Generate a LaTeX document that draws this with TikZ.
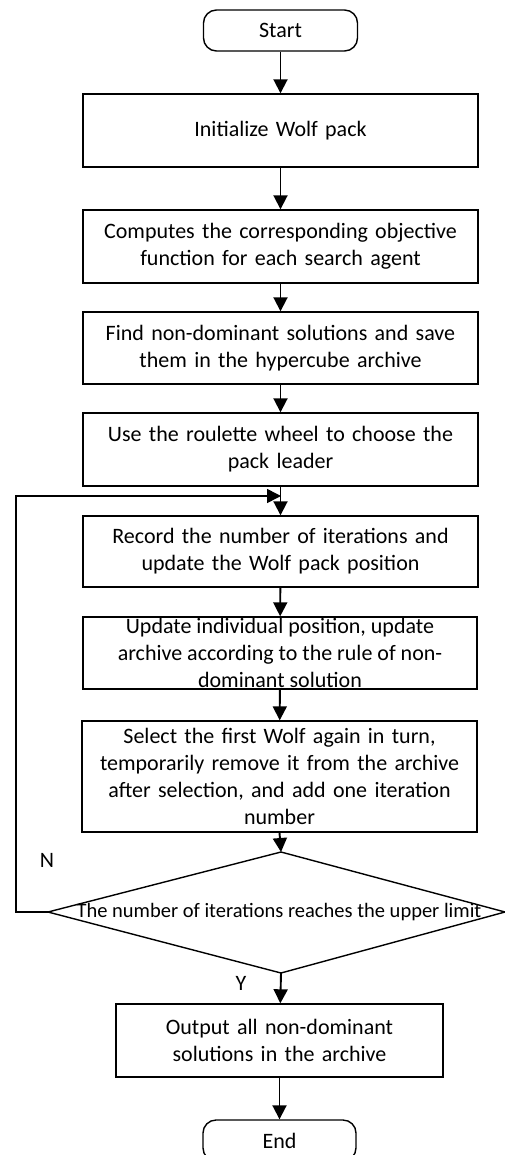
\documentclass[tikz,border=0pt]{standalone}
\usepackage{fontspec}
\setmainfont{Carlito}
\usetikzlibrary{arrows.meta,positioning}
\begin{document}
\begin{tikzpicture}[x=1pt,y=-1pt,
  font=\fontsize{22}{27}\selectfont,
  box/.style={draw, line width=1.4pt, minimum width=395pt, text width=390pt, align=center, inner sep=0pt},
  term/.style={draw, line width=1.4pt, rounded corners=13pt, minimum width=154pt, minimum height=41pt, inner sep=0pt},
  arr/.style={line width=1.9pt, -{Triangle[length=14pt,width=14pt]}},
  lbl/.style={inner sep=0pt}]
\useasboundingbox (0,0) rectangle (505,1155);
\node[term] (start) at (280.5,30.5) {Start};
\node[box, minimum height=73pt] (init) at (280.5,130.5) {Initialize Wolf pack};
\node[box, minimum height=73pt] (comp) at (280.5,246.5) {Computes the corresponding objective\\function for each search agent};
\node[box, minimum height=72pt] (find) at (280.5,348) {Find non-dominant solutions and save\\them in the hypercube archive};
\node[box, minimum height=73pt] (use) at (280.5,449.5) {Use the roulette wheel to choose the\\pack leader};
\node[box, minimum height=71pt] (rec) at (280.5,551.5) {Record the number of iterations and\\update the Wolf pack position};
\node[draw, line width=1.4pt, minimum width=394pt, minimum height=72pt, inner sep=0pt] (upd) at (280,653) {};
\node[lbl, align=center] (updt) at (upd.center) {Update individual position, update\\archive according to the rule of non-\\dominant solution};
\node[box, minimum height=111pt] (sel) at (279.5,776.5) {Select the first Wolf again in turn,\\temporarily remove it from the archive\\after selection, and add one iteration\\number};
\coordinate (dT) at (281,852);
\coordinate (dL) at (48,912);
\coordinate (dR) at (505,912);
\coordinate (dB) at (281,973);
\draw[line width=1.4pt] (dT) -- (dR) -- (dB) -- (dL) -- cycle;
\node[lbl, font=\fontsize{20.5}{25}\selectfont] (dec) at (279,912) {The number of iterations reaches the upper limit};
\node[box, minimum width=327pt, text width=320pt, minimum height=73pt] (out) at (279.5,1040.5) {Output all non-dominant\\solutions in the archive};
\node[term, minimum width=153pt] (end) at (279.5,1140.5) {End};
\node[lbl] (N) at (47,860) {N};
\node[lbl] (Y) at (241,983) {Y};
\coordinate (loopA) at (16,912);
\coordinate (loopB) at (16,496);
\coordinate (loopC) at (281,496);
\draw[arr] (start) -- (init);
\draw[arr] (init) -- (comp);
\draw[arr] (comp) -- (find);
\draw[arr] (find) -- (use);
\draw[arr] (use) -- (rec);
\draw[arr] (rec) -- (upd);
\draw[arr] (upd) -- (sel);
\draw[arr] (sel.south) -- (dT);
\draw[arr] (dB) -- (out);
\draw[arr] (out) -- (end);
\draw[arr, line width=1.6pt] (dL) -- (loopA) -- (loopB) -- (loopC);
\end{tikzpicture}
\end{document}
